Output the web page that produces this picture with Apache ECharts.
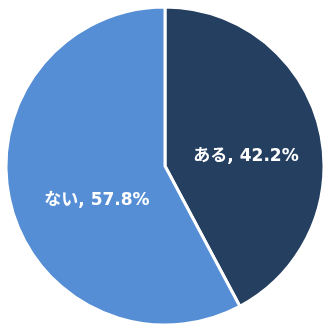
<!DOCTYPE html>
<html><head><meta charset="utf-8">
<script src="https://cdn.jsdelivr.net/npm/echarts@6/dist/echarts.min.js"></script>
<style>html,body{margin:0;padding:0;background:#fff}#c{width:331px;height:333px}</style>
</head><body><div id="c"></div>
<script>
var categories = ["ある", "ない"];
var values = [42.2, 57.8];
var colors = ["#243F60", "#558ED5"];
var labelOffsets = [[1, 11], [12, 15]];

var chart = echarts.init(document.getElementById('c'), null, {renderer: 'canvas'});
chart.setOption({
  animation: false,
  series: [{
    type: 'pie',
    center: [165, 166],
    radius: [0, 159],
    startAngle: 90,
    clockwise: true,
    avoidLabelOverlap: false,
    itemStyle: {borderColor: '#fff', borderWidth: 3},
    label: {
      show: true,
      position: 'inside',
      color: '#fff',
      fontFamily: '"DejaVu Sans", "Noto Sans CJK JP", sans-serif',
      fontWeight: 'bold',
      fontSize: 17,
      formatter: function (p) { return p.name + ', ' + p.value.toFixed(1) + '%'; }
    },
    labelLine: {show: false},
    emphasis: {disabled: true},
    data: categories.map(function (n, i) {
      return {name: n, value: values[i], itemStyle: {color: colors[i]}, label: {offset: labelOffsets[i]}};
    })
  }]
});
</script></body></html>
